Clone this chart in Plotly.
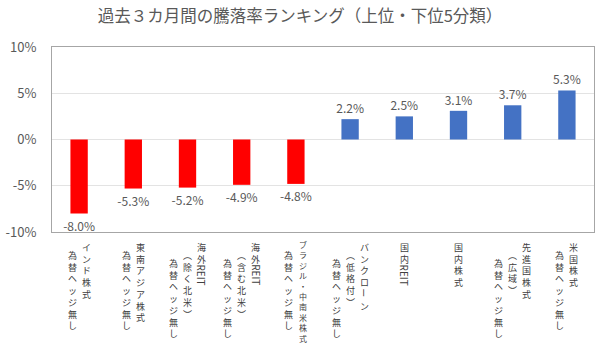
import re
import plotly.graph_objects as go

# ---- data ----
categories = [
    "インド株式 為替ヘッジ無し",
    "東南アジア株式 為替ヘッジ無し",
    "海外REIT (除く北米) 為替ヘッジ無し",
    "海外REIT (含む北米) 為替ヘッジ無し",
    "ブラジル・中南米株式 為替ヘッジ無し",
    "バンクローン (低格付) 為替ヘッジ無し",
    "国内REIT",
    "国内株式",
    "先進国株式 (広域) 為替ヘッジ無し",
    "米国株式 為替ヘッジ無し",
]
# label lines (first line = rightmost column in vertical writing)
label_lines = [
    ["インド株式", "為替ヘッジ無し"],
    ["東南アジア株式", "為替ヘッジ無し"],
    ["海外REIT", "︵除く北米︶", "為替ヘッジ無し"],
    ["海外REIT", "︵含む北米︶", "為替ヘッジ無し"],
    ["ブラジル・中南米株式", "為替ヘッジ無し"],
    ["バンクローン", "︵低格付︶", "為替ヘッジ無し"],
    ["国内REIT"],
    ["国内株式"],
    ["先進国株式", "︵広域︶", "為替ヘッジ無し"],
    ["米国株式", "為替ヘッジ無し"],
]
returns = [-8.0, -5.3, -5.2, -4.9, -4.8, 2.2, 2.5, 3.1, 3.7, 5.3]
y_ticks = [-10, -5, 0, 5, 10]
y_tick_text = ["-10%", "-5%", "0%", "5%", "10%"]

title = "過去３カ月間の騰落率ランキング（上位・下位5分類）"

RED = "#FF0000"
BLUE = "#4472C4"
colors = [RED if v < 0 else BLUE for v in returns]

JP = "Noto Sans CJK JP"

fig = go.Figure(
    go.Bar(
        x=list(range(len(categories))),
        y=returns,
        marker=dict(color=colors, line=dict(width=0)),
        text=[f"{v:.1f}%" for v in returns],
        textposition="outside",
        constraintext="none",
        textfont=dict(family=JP, size=12, color="#595959"),
        cliponaxis=False,
        hovertext=categories,
    )
)

# vertical (tategaki) category labels: upright runs stacked with <br>,
# latin words and the long-vowel mark turned sideways
COL_SP = 14
annotations = []
for i, lines in enumerate(label_lines):
    n = len(lines)
    for c, line in enumerate(lines):
        # a very long column is set a touch smaller so it fits the page
        fs = 9 if len(line) <= 8 else 8
        lh = 1.3 * fs
        xshift = ((n - 1) / 2 - c) * COL_SP
        pos = (8 if fs == 9 else 6) + c * 8
        segments = re.findall(r"[A-Za-z]+|ー|[^A-Za-zー]+", line)
        for seg in segments:
            rot = bool(re.match(r"[A-Za-zー]", seg))
            if rot:
                adv = 5.9 * len(seg) + 2 if seg != "ー" else lh
                text = seg
            else:
                adv = lh * len(seg)
                text = "<br>".join(seg)
            annotations.append(dict(
                x=i, xref="x", y=0, yref="paper",
                text=text, showarrow=False,
                xanchor="center", yanchor="top",
                xshift=xshift, yshift=-pos,
                textangle=90 if rot else 0,
                font=dict(family=JP, size=fs if not re.match(r"[A-Za-z]", seg) else 10,
                          color="#404040"),
                borderpad=0,
            ))
            pos += adv

fig.update_layout(
    width=600, height=346,
    margin=dict(l=46, r=5, t=47, b=114),
    paper_bgcolor="white", plot_bgcolor="white",
    bargap=0.68,
    showlegend=False,
    title=dict(text=title, x=0.5, xref="container", xanchor="center",
               y=1 - 16 / 346, yref="container", yanchor="middle",
               font=dict(family=JP, size=16.5, color="#595959")),
    annotations=annotations,
    font=dict(family=JP),
)
fig.update_xaxes(
    range=[-0.5, len(categories) - 0.5],
    showticklabels=False, showgrid=False, zeroline=False,
    showline=True, mirror=True, linecolor="#A6A6A6", linewidth=1,
    ticks="",
)
fig.update_yaxes(
    range=[-10, 10], tickvals=y_ticks, ticktext=y_tick_text,
    tickfont=dict(family=JP, size=13, color="#595959"),
    showgrid=True, gridcolor="#E3E3E3", gridwidth=1,
    zeroline=True, zerolinecolor="#E3E3E3", zerolinewidth=1,
    showline=True, mirror=True, linecolor="#A6A6A6", linewidth=1,
    ticks="", ticklabelstandoff=12,
)

fig.write_html("out.html")
